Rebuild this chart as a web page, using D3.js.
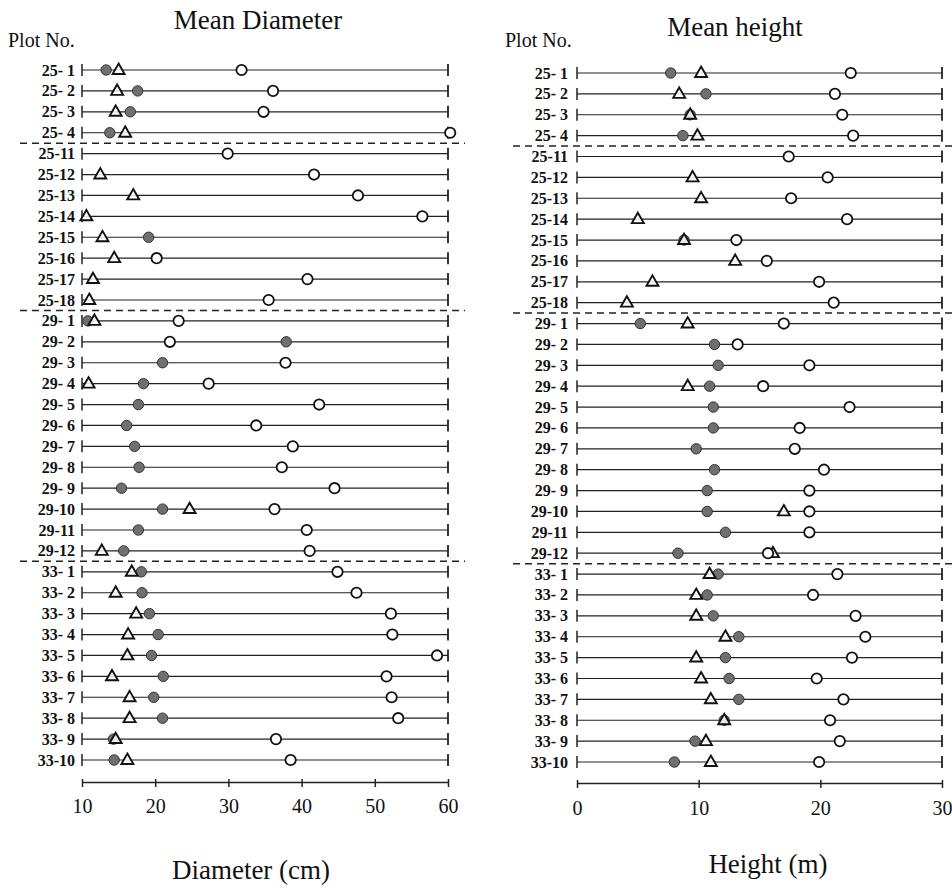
<!DOCTYPE html>
<html>
<head>
<meta charset="utf-8">
<script src="https://cdn.jsdelivr.net/npm/d3@7"></script>
<style>
  body { margin: 0; background: #fff; }
  svg text { font-family: "Liberation Serif", "Times New Roman", serif; fill: #111; }
</style>
</head>
<body>
<div id="chart"></div>
<script>
// plot ids, top to bottom
const plots = ["25- 1","25- 2","25- 3","25- 4",
  "25-11","25-12","25-13","25-14","25-15","25-16","25-17","25-18",
  "29- 1","29- 2","29- 3","29- 4","29- 5","29- 6","29- 7","29- 8","29- 9","29-10","29-11","29-12",
  "33- 1","33- 2","33- 3","33- 4","33- 5","33- 6","33- 7","33- 8","33- 9","33-10"];

// group boundaries (dashed line after these rows)
const breaksAfter = ["25- 4", "25-18", "29-12"];

// Mean diameter (cm): filled circle, triangle, open circle
const diamFilled = [13.3,17.6,16.6,13.8, null,null,null,null,19.1,null,null,null,
  10.8,37.9,21.0,18.4,17.7,16.1,17.2,17.8,15.4,21.0,17.7,15.7,
  18.1,18.2,19.2,20.4,19.5,21.1,19.8,21.0,14.3,14.4];
const diamTri = [15.0,14.8,14.6,15.9, null,12.5,17.0,10.6,12.8,14.4,11.5,11.0,
  11.7,null,null,10.9,null,null,null,null,null,24.7,null,12.7,
  16.8,14.6,17.4,16.3,16.2,14.1,16.5,16.5,14.6,16.2];
const diamOpen = [31.8,36.1,34.8,60.3, 29.9,41.7,47.7,56.5,null,20.2,40.8,35.5,
  23.2,22.0,37.8,27.3,42.4,33.8,38.8,37.3,44.5,36.3,40.7,41.1,
  44.9,47.5,52.2,52.4,58.5,51.6,52.3,53.2,36.5,38.5];

// Mean height (m)
const htFilled = [7.7,10.6,9.3,8.7, null,null,null,null,8.8,null,null,null,
  5.2,11.3,11.6,10.9,11.2,11.2,9.8,11.3,10.7,10.7,12.2,8.3,
  11.6,10.7,11.2,13.3,12.2,12.5,13.3,12.1,9.7,8.0];
const htTri = [10.2,8.4,9.3,9.9, null,9.5,10.2,5.0,8.8,13.0,6.2,4.1,
  9.1,null,null,9.1,null,null,null,null,null,17.0,null,16.1,
  10.9,9.8,9.8,12.2,9.8,10.2,11.0,12.1,10.6,11.0];
const htOpen = [22.5,21.2,21.8,22.7, 17.4,20.6,17.6,22.2,13.1,15.6,19.9,21.1,
  17.0,13.2,19.1,15.3,22.4,18.3,17.9,20.3,19.1,19.1,19.1,15.7,
  21.4,19.4,22.9,23.7,22.6,19.7,21.9,20.8,21.6,19.9];

const diamTicks = [10, 20, 30, 40, 50, 60];
const htTicks = [0, 10, 20, 30];

const W = 952, H = 891;
const svg = d3.select("#chart").append("svg")
  .attr("width", W).attr("height", H);

const panels = [
  { title: "Mean Diameter", xlab: "Diameter (cm)", domain: [10, 60], ticks: diamTicks,
    x0: 82, x1: 448, yTop: 70, yBot: 760, axisY: 782, labelX: 75, plotNoX: 8,
    titleX: 258, titleY: 29, xlabX: 251, xlabY: 879, tickY: 813, dashX: [20, 465],
    filled: diamFilled, tri: diamTri, open: diamOpen },
  { title: "Mean height", xlab: "Height (m)", domain: [0, 30], ticks: htTicks,
    x0: 577, x1: 942, yTop: 73, yBot: 762, axisY: 783, labelX: 568, plotNoX: 505,
    titleX: 735, titleY: 36, xlabX: 768, xlabY: 873, tickY: 815, dashX: [513, 952],
    filled: htFilled, tri: htTri, open: htOpen }
];

panels.forEach(function(p) {
  const g = svg.append("g");
  const x = d3.scaleLinear().domain(p.domain).range([p.x0, p.x1]);
  const y = d3.scalePoint().domain(plots).range([p.yTop, p.yBot]);

  g.append("text").attr("x", p.titleX).attr("y", p.titleY)
    .attr("text-anchor", "middle").style("font-size", "27px").text(p.title);
  g.append("text").attr("x", p.plotNoX).attr("y", 47)
    .style("font-size", "20px").text("Plot No.");

  // row lines with end ticks
  const rows = g.selectAll(".row").data(plots).enter().append("g")
    .attr("transform", d => "translate(0," + y(d) + ")");
  rows.append("line").attr("x1", x(p.domain[0])).attr("x2", x(p.domain[1]))
    .attr("stroke", "#222").attr("stroke-width", 1.2);
  rows.append("line").attr("x1", x(p.domain[0])).attr("x2", x(p.domain[0]))
    .attr("y1", -6).attr("y2", 6).attr("stroke", "#222").attr("stroke-width", 1.5);
  rows.append("line").attr("x1", x(p.domain[1])).attr("x2", x(p.domain[1]))
    .attr("y1", -6).attr("y2", 6).attr("stroke", "#222").attr("stroke-width", 1.8);
  rows.append("text").attr("x", p.labelX).attr("y", 5.5)
    .attr("text-anchor", "end").attr("xml:space", "preserve")
    .style("font-size", "16px").style("font-weight", "bold").text(d => d);

  // dashed group separators
  breaksAfter.forEach(function(b) {
    const i = plots.indexOf(b);
    const yy = (y(plots[i]) + y(plots[i + 1])) / 2;
    g.append("line").attr("x1", p.dashX[0]).attr("x2", p.dashX[1])
      .attr("y1", yy).attr("y2", yy).attr("stroke", "#222")
      .attr("stroke-width", 1.5).attr("stroke-dasharray", "7,5");
  });

  // markers
  const pts = (arr) => plots.map((d, i) => ({ id: d, v: arr[i] })).filter(d => d.v != null);

  g.selectAll(".filled").data(pts(p.filled)).enter().append("circle")
    .attr("cx", d => x(d.v)).attr("cy", d => y(d.id)).attr("r", 5.2)
    .attr("fill", "#6f6f6f").attr("stroke", "#333").attr("stroke-width", 1);

  const tri = d3.symbol().type(d3.symbolTriangle).size(62);
  g.selectAll(".tri").data(pts(p.tri)).enter().append("path")
    .attr("d", tri)
    .attr("transform", d => "translate(" + x(d.v) + "," + (y(d.id) + 0.5) + ")")
    .attr("fill", "#fff").attr("fill-opacity", 0.85)
    .attr("stroke", "#111").attr("stroke-width", 1.9);

  g.selectAll(".open").data(pts(p.open)).enter().append("circle")
    .attr("cx", d => x(d.v)).attr("cy", d => y(d.id)).attr("r", 5.2)
    .attr("fill", "#fff").attr("stroke", "#111").attr("stroke-width", 1.8);

  // x axis
  const axis = g.append("g").attr("transform", "translate(0," + p.axisY + ")")
    .call(d3.axisBottom(x).tickValues(p.ticks).tickSize(5).tickSizeOuter(0));
  axis.select(".domain").attr("stroke", "#222").attr("stroke-width", 1.5);
  axis.selectAll(".tick line").attr("stroke", "#222").attr("stroke-width", 1.5)
    .attr("y1", -3);
  axis.selectAll(".tick text").attr("y", p.tickY - p.axisY).attr("dy", null)
    .style("font-size", "20px")
    .style("font-family", "'Liberation Serif', serif").attr("fill", "#111");

  g.append("text").attr("x", p.xlabX).attr("y", p.xlabY)
    .attr("text-anchor", "middle").style("font-size", "27px").text(p.xlab);
});
</script>
</body>
</html>
